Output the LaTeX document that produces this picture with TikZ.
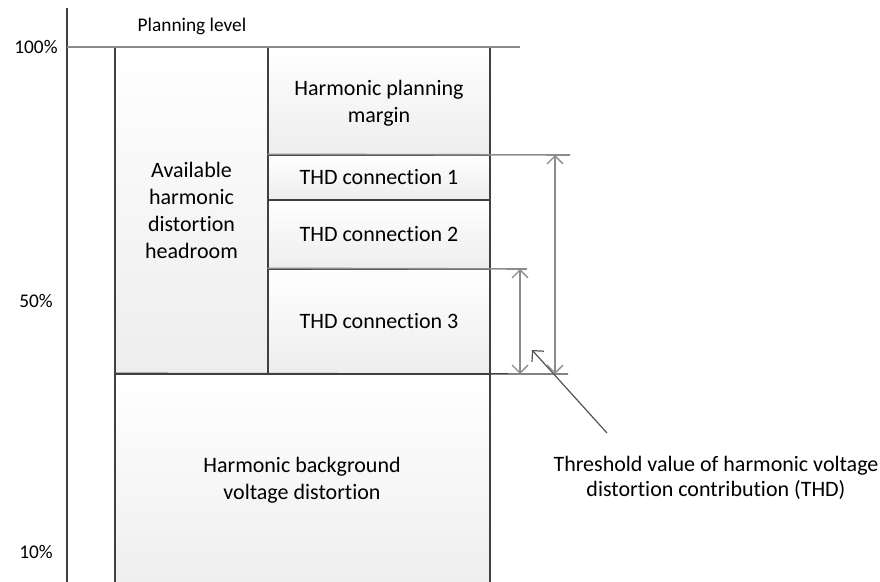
\documentclass[tikz,border=0pt]{standalone}
\usepackage{fontspec}
\setmainfont{Carlito}[Ligatures={NoCommon}]
\usetikzlibrary{fit,arrows.meta}
\definecolor{edge}{HTML}{404040}
\definecolor{guide}{HTML}{8C8C8C}
\tikzset{
  box/.style={draw=edge, line width=1pt, inner sep=0pt, top color=white, bottom color=black!7},
  txt/.style={align=center, inner sep=0pt, font=\fontsize{16.5}{20.3}\selectfont},
  lbl/.style={font=\fontsize{14.5}{17}\selectfont, inner sep=0pt},
  guideline/.style={draw=guide, line width=1.2pt},
  dim/.style={draw=guide, line width=1pt, {Straight Barb[length=6pt,width=12pt]}-{Straight Barb[length=6pt,width=12pt]}},
  ptr/.style={draw=edge!90, line width=0.9pt, -{Straight Barb[length=6pt,width=12pt]}}
}
\begin{document}
\begin{tikzpicture}[x=0.75pt,y=-0.75pt]
\useasboundingbox (0,0) rectangle (880,581);
\clip (0,0) rectangle (880,581);
% corner coordinates
\coordinate (lA) at (115,47);  \coordinate (lB) at (268,374);
\coordinate (pA) at (268,47);  \coordinate (pB) at (490,155);
\coordinate (t1A) at (268,155); \coordinate (t1B) at (490,200);
\coordinate (t2A) at (268,200); \coordinate (t2B) at (490,269);
\coordinate (t3A) at (268,269); \coordinate (t3B) at (490,374);
\coordinate (bA) at (115,374);  \coordinate (bB) at (490,600);
% boxes
\node[box, fit=(lA)(lB)] (head) {};
\node[box, fit=(pA)(pB)] (margin) {};
\node[box, fit=(t1A)(t1B)] (thd1) {};
\node[box, fit=(t2A)(t2B)] (thd2) {};
\node[box, fit=(t3A)(t3B)] (thd3) {};
\node[box, fit=(bA)(bB)] (bg) {};
% box texts
\node[txt] (headT) at (head.center) {Available\\harmonic\\distortion\\headroom};
\node[txt] (marginT) at ([yshift=-1.5pt]margin.center) {Harmonic planning\\margin};
\node[txt] (thd1T) at (thd1.center) {THD connection 1};
\node[txt] (thd2T) at (thd2.center) {THD connection 2};
\node[txt] (thd3T) at (thd3.center) {THD connection 3};
\node[txt] (bgT) at (302,480) {Harmonic background\\voltage distortion};
% axis
\coordinate (axT) at (67,8);
\coordinate (axB) at (67,600);
\draw[draw=edge, line width=0.9pt] (axT) -- (axB);
% guide lines
\coordinate (g100) at (520,47);
\coordinate (g1) at (570,155);
\coordinate (g3) at (527,269);
\coordinate (g0) at (568,374);
\coordinate (a100) at (67,47);
\draw[guideline] (a100) -- (g100);
\draw[guideline] (thd1.north west) -- (g1);
\draw[guideline] (thd3.north west) -- (g3);
\draw[draw=edge, line width=1pt] (bg.north west) -- (g0);
% dimension arrows
\coordinate (d1T) at (555,155); \coordinate (d1B) at (555,374);
\coordinate (d3T) at (520,269); \coordinate (d3B) at (520,374);
\draw[dim] (d1T) -- (d1B);
\draw[dim] (d3T) -- (d3B);
% labels
\node[lbl] (p100) at (36,47) {100\%};
\node[lbl] (p50) at (36,301) {50\%};
\node[lbl] (p10) at (36,552) {10\%};
\node[lbl] (plan) at (192,26) {Planning level};
\node[align=center, font=\fontsize{16.5}{19}\selectfont, inner sep=0pt] (thr) at (716,478) {Threshold value of harmonic voltage\\distortion contribution (THD)};
\coordinate (ptrS) at (607,433);
\coordinate (ptrE) at (532,350);
\draw[ptr] (ptrS) -- (ptrE);
\end{tikzpicture}
\end{document}
